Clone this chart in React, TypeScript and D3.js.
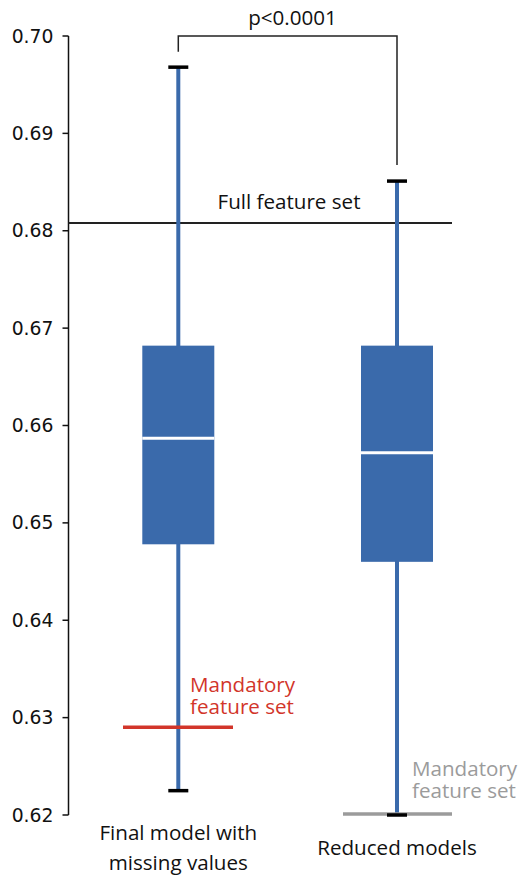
import React from "react";
import * as d3 from "d3";

const categories = ["Final model with\nmissing values", "Reduced models"];
const whiskerHigh = [0.6968, 0.6851];
const q3Values = [0.6682, 0.6682];
const medianValues = [0.6587, 0.6572];
const q1Values = [0.6478, 0.646];
const whiskerLow = [0.6225, 0.62];
const yTicks = [0.62, 0.63, 0.64, 0.65, 0.66, 0.67, 0.68, 0.69, 0.7];
const fullFeatureValue = 0.6808;
const mandatoryValues = [0.629, 0.6201];
const pLabel = "p<0.0001";

const W = 521;
const H = 875;
const BLUE = "#3a6aab";
const TEXT_FONT = "'Open Sans', sans-serif";
const FS = 20.6;

export default function App() {
  const y = d3.scaleLinear().domain([0.62, 0.7]).range([815, 36]);
  const x = d3.scalePoint<string>().domain(categories).range([178.3, 397]);
  const boxW = 72;
  const capW = 20;
  const axisX = 68.5;
  const xs = categories.map((c) => x(c) as number);

  return (
    <svg
      width={W}
      height={H}
      style={{ position: "absolute", left: 0, top: 0, background: "#fff" }}
    >
      {/* y axis */}
      <line x1={axisX} x2={axisX} y1={y(0.7)} y2={y(0.62)} stroke="#111" strokeWidth={1.5} />
      {yTicks.map((t) => (
        <g key={t}>
          <line x1={axisX - 6} x2={axisX} y1={y(t)} y2={y(t)} stroke="#111" strokeWidth={1.5} />
          <text
            x={axisX - 15}
            y={y(t)}
            dy="0.35em"
            textAnchor="end"
            fontFamily="'DejaVu Sans', sans-serif"
            fontSize={18.8}
            fill="#111"
          >
            {d3.format(".2f")(t)}
          </text>
        </g>
      ))}

      {/* full feature set line */}
      <line x1={axisX} x2={452} y1={y(fullFeatureValue)} y2={y(fullFeatureValue)} stroke="#222" strokeWidth={2} />
      <text x={289} y={y(fullFeatureValue) - 14} textAnchor="middle" fontFamily={TEXT_FONT} fontSize={FS} fill="#111">
        Full feature set
      </text>

      {/* boxes */}
      {categories.map((c, i) => {
        const cx = xs[i];
        return (
          <g key={c}>
            <line x1={cx} x2={cx} y1={y(whiskerHigh[i])} y2={y(whiskerLow[i])} stroke={BLUE} strokeWidth={4} />
            <rect
              x={cx - boxW / 2}
              y={y(q3Values[i])}
              width={boxW}
              height={y(q1Values[i]) - y(q3Values[i])}
              fill={BLUE}
            />
            <line
              x1={cx - boxW / 2}
              x2={cx + boxW / 2}
              y1={y(medianValues[i])}
              y2={y(medianValues[i])}
              stroke="#fff"
              strokeWidth={3}
            />
          </g>
        );
      })}

      {/* mandatory feature set lines */}
      <line x1={123} x2={233} y1={y(mandatoryValues[0])} y2={y(mandatoryValues[0])} stroke="#d2352a" strokeWidth={3.5} />
      <line x1={343} x2={452} y1={y(mandatoryValues[1])} y2={y(mandatoryValues[1])} stroke="#9b9b9b" strokeWidth={3.5} />
      <text x={190} y={692} fontFamily={TEXT_FONT} fontSize={FS} fill="#d2352a">Mandatory</text>
      <text x={190} y={714} fontFamily={TEXT_FONT} fontSize={FS} fill="#d2352a">feature set</text>
      <text x={412} y={776} fontFamily={TEXT_FONT} fontSize={FS} fill="#9b9b9b">Mandatory</text>
      <text x={412} y={798} fontFamily={TEXT_FONT} fontSize={FS} fill="#9b9b9b">feature set</text>

      {/* caps */}
      {categories.map((c, i) => (
        <g key={"cap" + c}>
          <line x1={xs[i] - capW / 2} x2={xs[i] + capW / 2} y1={y(whiskerHigh[i])} y2={y(whiskerHigh[i])} stroke="#000" strokeWidth={3.5} />
          <line x1={xs[i] - capW / 2} x2={xs[i] + capW / 2} y1={y(whiskerLow[i])} y2={y(whiskerLow[i])} stroke="#000" strokeWidth={3.5} />
        </g>
      ))}

      {/* significance bracket */}
      <path
        d={`M${xs[0]},51.7 V36 H${xs[1]} V165`}
        fill="none"
        stroke="#222"
        strokeWidth={1.5}
      />
      <text x={292.5} y={25} textAnchor="middle" fontFamily={TEXT_FONT} fontSize={FS} fill="#111">
        {pLabel}
      </text>

      {/* category labels */}
      {categories.map((c, i) =>
        c.split("\n").map((line, j) => (
          <text
            key={"lab" + i + "-" + j}
            x={xs[i]}
            y={(i === 0 ? 840 : 855) + j * 30}
            textAnchor="middle"
            fontFamily={TEXT_FONT}
            fontSize={FS}
            fill="#111"
          >
            {line}
          </text>
        ))
      )}
    </svg>
  );
}
